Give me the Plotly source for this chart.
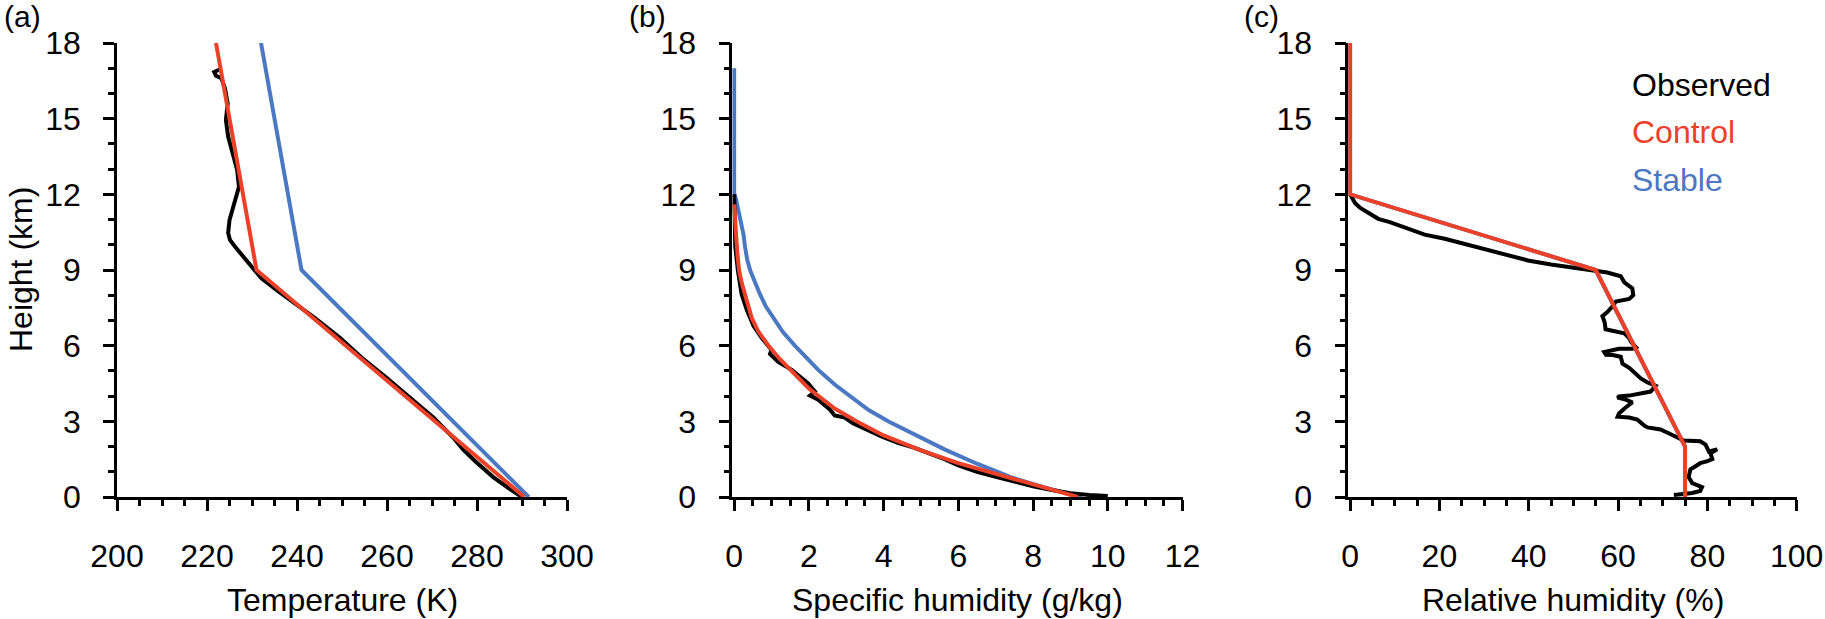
import plotly.graph_objects as go

# ---------------- data ----------------
# Panel (a): Temperature (K) vs height (km)
obs_T = [222.8, 221.6, 222.0, 223.2, 224.0, 224.6, 224.2, 224.7, 225.7, 226.7, 227.1, 226.9,
         226.2, 225.5, 225.0, 224.7, 225.1, 226.2, 228.1, 229.9, 232.1, 235.5, 239.2, 244.0,
         249.6, 254.4, 259.9, 265.1, 270.3, 274.7, 276.9, 279.6, 283.6, 287.0, 290.0]
obs_T_h = [16.95, 16.85, 16.7, 16.6, 16.2, 15.6, 14.95, 14.29, 13.63, 12.97, 12.3, 12.17,
           11.78, 11.38, 10.98, 10.47, 10.19, 9.93, 9.54, 9.14, 8.67, 8.2, 7.72, 7.09,
           6.3, 5.52, 4.73, 3.94, 3.15, 2.36, 1.89, 1.42, 0.79, 0.35, 0.0]
ctl_T = [222.0, 231.0, 290.5]
ctl_T_h = [18.0, 9.0, 0.0]
stb_T = [232.0, 241.0, 291.5]
stb_T_h = [18.0, 9.0, 0.0]

# Panel (b): Specific humidity (g/kg) vs height (km)
obs_q = [0.0, 0.03, 0.1, 0.2, 0.34, 0.52, 0.74, 0.92, 1.0, 0.96, 1.18, 1.54, 1.98, 2.16,
         2.03, 2.25, 2.56, 2.69, 2.96, 3.18, 3.49, 3.94, 4.38, 4.83, 5.27, 5.63, 6.0,
         6.5, 7.0, 7.5, 8.0, 8.5, 9.0, 9.5, 10.0]
obs_q_h = [12.0, 9.93, 8.98, 8.04, 7.41, 6.78, 6.3, 6.0, 5.83, 5.67, 5.36, 5.04, 4.5, 4.18,
           4.02, 3.86, 3.47, 3.23, 3.15, 2.92, 2.7, 2.4, 2.15, 1.95, 1.7, 1.5, 1.25,
           1.0, 0.8, 0.6, 0.42, 0.28, 0.15, 0.08, 0.04]
ctl_q = [0.0, 0.01, 0.03, 0.06, 0.09, 0.13, 0.2, 0.29, 0.37, 0.47, 0.65, 0.92, 1.2, 1.54,
         2.0, 2.7, 3.4, 4.0, 5.0, 6.0, 7.0, 8.0, 9.2]
ctl_q_h = [11.6, 11.2, 10.7, 10.2, 9.6, 9.0, 8.5, 8.0, 7.55, 7.1, 6.55, 6.0, 5.5, 5.0,
           4.3, 3.5, 2.9, 2.44, 1.85, 1.34, 0.93, 0.52, 0.0]
stb_q = [0.0, 0.0, 0.05, 0.12, 0.19, 0.25, 0.29, 0.35, 0.43, 0.55, 0.69, 0.85, 1.05, 1.3,
         1.63, 1.95, 2.25, 2.7, 3.14, 3.6, 4.12, 4.85, 5.63, 6.5, 7.4, 8.3, 9.3]
stb_q_h = [17.0, 12.05, 11.8, 11.3, 10.9, 10.4, 9.93, 9.4, 8.98, 8.5, 8.04, 7.55, 7.09, 6.55,
           5.99, 5.5, 5.04, 4.45, 3.94, 3.45, 3.0, 2.45, 1.89, 1.32, 0.79, 0.38, 0.0]

# Panel (c): Relative humidity (%) vs height (km)
obs_rh = [0.0, 1.1, 2.2, 4.1, 6.3, 8.9, 11.5, 13.8, 16.7, 21.2, 26.4, 30.9, 35.3, 39.8,
          45.0, 50.2, 54.9, 57.6, 60.6, 61.4, 63.2, 63.4, 62.5, 59.5, 58.8, 57.6, 56.5,
          57.0, 57.2, 58.8, 61.4, 62.5, 62.9, 64.0, 63.2, 60.2, 58.7, 56.9, 57.3, 58.8,
          60.6, 61.0, 62.5, 64.0, 65.1, 66.6, 68.4, 67.3, 64.3, 62.5, 60.2, 59.9, 61.7,
          63.2, 61.7, 60.2, 59.9, 62.5, 64.3, 65.1, 65.8, 66.6, 69.5, 71.8, 73.3, 74.7,
          78.4, 79.6, 80.3, 82.2, 80.7, 81.1, 80.0, 78.4, 77.0, 76.2, 75.8, 76.6, 78.8,
          78.4, 76.6, 74.0, 72.5]
obs_rh_h = [12.0, 11.66, 11.47, 11.27, 11.03, 10.9, 10.72, 10.56, 10.4, 10.24, 10.0, 9.8,
            9.58, 9.38, 9.22, 9.09, 8.98, 8.9, 8.75, 8.51, 8.27, 8.0, 7.85, 7.75, 7.57,
            7.33, 7.17, 6.93, 6.65, 6.59, 6.49, 6.3, 6.15, 5.94, 5.88, 5.88, 5.83, 5.75,
            5.64, 5.63, 5.56, 5.28, 5.12, 4.89, 4.7, 4.54, 4.41, 4.18, 4.07, 4.02, 3.99,
            3.94, 3.86, 3.75, 3.55, 3.31, 3.18, 3.15, 3.07, 2.92, 2.84, 2.76, 2.68, 2.49,
            2.36, 2.24, 2.21, 2.08, 1.81, 1.89, 1.73, 1.5, 1.42, 1.34, 1.18, 1.1, 0.79,
            0.55, 0.39, 0.24, 0.16, 0.13, 0.08]
ctl_rh = [0.0, 0.0, 55.0, 75.0, 75.0]
ctl_rh_h = [18.0, 12.0, 9.0, 2.0, 0.0]
stb_rh = [0.0, 0.0, 55.0, 75.0, 75.0]
stb_rh_h = [18.0, 12.0, 9.0, 2.0, 0.0]

series_names = ["Observed", "Control", "Stable"]
panel_labels = ["(a)", "(b)", "(c)"]
x_titles = ["Temperature (K)", "Specific humidity (g/kg)", "Relative humidity (%)"]
y_title = "Height (km)"

# ---------------- style ----------------
BLACK = "#000000"
RED = "#EC4129"
BLUE = "#4A78C2"
FONT = "Liberation Sans, Arial, Helvetica, sans-serif"
FS = 32
W, H = 1825, 619
LW = 4

def px(v):
    return v / W

def py(v):
    return 1 - v / H

x_domains = [[px(117), px(567)], [px(732.3), px(1182.5)], [px(1348.3), px(1796.7)]]
y_domain = [py(497), py(43)]

fig = go.Figure()

panels = [
    (obs_T, obs_T_h, ctl_T, ctl_T_h, stb_T, stb_T_h),
    (obs_q, obs_q_h, ctl_q, ctl_q_h, stb_q, stb_q_h),
    (obs_rh, obs_rh_h, ctl_rh, ctl_rh_h, stb_rh, stb_rh_h),
]
for i, (ox, oy, cx, cy, sx, sy) in enumerate(panels):
    xa = "x" if i == 0 else f"x{i+1}"
    ya = "y" if i == 0 else f"y{i+1}"
    fig.add_trace(go.Scatter(x=sx, y=sy, mode="lines", name=series_names[2],
                             line=dict(color=BLUE, width=LW),
                             xaxis=xa, yaxis=ya, showlegend=False))
    fig.add_trace(go.Scatter(x=ox, y=oy, mode="lines", name=series_names[0],
                             line=dict(color=BLACK, width=LW),
                             xaxis=xa, yaxis=ya, showlegend=False))
    fig.add_trace(go.Scatter(x=cx, y=cy, mode="lines", name=series_names[1],
                             line=dict(color=RED, width=LW),
                             xaxis=xa, yaxis=ya, showlegend=False))

x_ranges = [[200, 300], [-0.05, 12], [-0.4, 100]]
x_dticks = [20, 2, 20]
x_minor = [5, 0.5, 5]
x_tick0 = [200, 0, 0]

axis_common = dict(showgrid=False, zeroline=False, showline=True, linecolor=BLACK,
                   linewidth=2.5, ticks="outside", tickcolor=BLACK, tickwidth=2.5,
                   ticklen=11, automargin=False, layer="below traces",
                   tickfont=dict(family=FONT, size=FS, color=BLACK))

layout = dict(width=W, height=H, margin=dict(l=0, r=0, t=0, b=0),
              paper_bgcolor="white", plot_bgcolor="white", showlegend=False,
              font=dict(family=FONT, size=FS, color=BLACK))
for i in range(3):
    xk = "xaxis" if i == 0 else f"xaxis{i+1}"
    yk = "yaxis" if i == 0 else f"yaxis{i+1}"
    xa_anchor = "y" if i == 0 else f"y{i+1}"
    ya_anchor = "x" if i == 0 else f"x{i+1}"
    layout[xk] = dict(axis_common, domain=x_domains[i], range=x_ranges[i], anchor=xa_anchor,
                      tick0=x_tick0[i], dtick=x_dticks[i], ticklabelstandoff=18,
                      minor=dict(dtick=x_minor[i], tick0=x_tick0[i], ticks="outside",
                                 ticklen=6, tickwidth=2.5, tickcolor=BLACK))
    layout[yk] = dict(axis_common, domain=y_domain, range=[0, 18], anchor=ya_anchor,
                      tick0=0, dtick=3, ticklabelstandoff=16,
                      minor=dict(dtick=1, tick0=0, ticks="outside", ticklen=6,
                                 tickwidth=2.5, tickcolor=BLACK))
fig.update_layout(**layout)

ann = []
label_x = [2, 627, 1242]
for i in range(3):
    ann.append(dict(text=panel_labels[i], x=px(label_x[i]), y=py(16), xref="paper", yref="paper",
                    xanchor="left", yanchor="middle", showarrow=False,
                    font=dict(family=FONT, size=30, color=BLACK)))
    ann.append(dict(text=x_titles[i], x=sum(x_domains[i]) / 2, y=py(600), xref="paper",
                    yref="paper", xanchor="center", yanchor="middle", showarrow=False,
                    font=dict(family=FONT, size=FS, color=BLACK)))
ann.append(dict(text=y_title, x=px(21), y=py(270), xref="paper", yref="paper",
                xanchor="center", yanchor="middle", textangle=-90, showarrow=False,
                font=dict(family=FONT, size=FS, color=BLACK)))
leg_colors = [BLACK, RED, BLUE]
leg_y = [84.7, 132.4, 180.1]
for name, c, yy in zip(series_names, leg_colors, leg_y):
    ann.append(dict(text=name, x=px(1630), y=py(yy), xref="paper", yref="paper",
                    xanchor="left", yanchor="middle", showarrow=False,
                    font=dict(family=FONT, size=FS, color=c)))
fig.update_layout(annotations=ann)

fig.write_html("out.html", config={"displayModeBar": False},
               post_script="document.body.style.margin='0px';document.body.style.overflow='hidden';")
